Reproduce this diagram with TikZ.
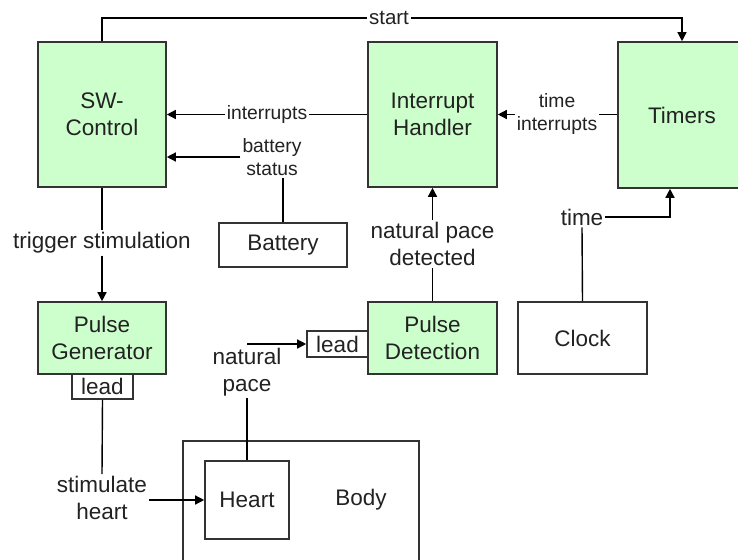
\documentclass[tikz,border=0pt]{standalone}
\usepackage{fontspec}
\setmainfont{Liberation Sans}
\usetikzlibrary{arrows.meta}

\definecolor{boxgreen}{HTML}{CCFFCC}
\definecolor{edgegray}{HTML}{333333}
\definecolor{txt}{HTML}{222222}

\tikzset{
  block/.style={draw=edgegray, line width=1.6pt, rectangle, minimum width=#1,
    inner sep=0pt, align=center, text=txt,
    font=\fontsize{22.5}{27}\selectfont},
  block/.default=128pt,
  hw/.style={block=#1, fill=boxgreen},
  hw/.default=128pt,
  biglbl/.style={fill=white, inner sep=2pt, align=center, text=txt,
    font=\fontsize{22.5}{27}\selectfont},
  smalllbl/.style={fill=white, inner sep=2pt, align=center, text=txt,
    font=\fontsize{19.3}{23}\selectfont},
  wire/.style={draw=black, line width=1.4pt},
  arr/.style={wire, -{Triangle[length=9pt,width=9pt]}},
}

\begin{document}
\begin{tikzpicture}[x=1pt, y=-1pt]
  \useasboundingbox (0,0) rectangle (738,559);
  \clip (0,0) rectangle (738,559);

  % software and hardware blocks
  \node[hw, minimum height=145pt] (sw) at (102,114.5) {SW-\\Control};
  \node[hw=129pt, minimum height=145pt] (ih) at (432.5,114.5) {Interrupt\\Handler};
  \node[hw, minimum height=146pt] (tm) at (682,115) {Timers};
  \node[hw, minimum height=72pt] (pg) at (102,338) {Pulse\\Generator};
  \node[hw=129pt, minimum height=72pt] (pd) at (432.5,338) {Pulse\\Detection};
  \node[block=129pt, minimum height=72pt] (clock) at (582.5,338) {Clock};
  \node[block, minimum height=44pt] (battery) at (283,245) {Battery};

  % leads
  \node[block=61pt, minimum height=25pt] (lead1) at (102.5,386.5) {lead};
  \node[block=61pt, minimum height=26pt] (lead2) at (337.5,344) {lead};

  % body with the heart inside
  \node[draw=edgegray, line width=1.6pt, minimum width=236pt, minimum height=121pt,
    inner sep=0pt] (body) at (301,501.5) {};
  \node[text=txt, font=\fontsize{22.5}{27}\selectfont] (bodytxt) at (361,500) {Body};
  \node[block=84pt, minimum height=78pt] (heart) at (247,500) {Heart};

  % connector labels
  \node[smalllbl, font=\fontsize{20.5}{24}\selectfont] (start) at (389,18) {start};
  \node[smalllbl] (intr) at (267,114.5) {interrupts};
  \node[smalllbl] (bstat) at (272,157) {battery\\status};
  \node[smalllbl] (tint) at (557,114.5) {time\\interrupts};
  \node[biglbl] (trig) at (102,243) {trigger stimulation};
  \node[biglbl] (stim) at (102,498) {stimulate\\heart};
  \node[biglbl] (natp) at (247,372) {natural\\pace};
  \node[biglbl] (npd) at (432.5,244) {natural pace\\detected};
  \node[biglbl] (time) at (582,217) {time};

  % connectors
  \draw[wire] (sw.north) |- (start.west);
  \draw[arr] (start.east) -| (tm.north);
  \draw[wire] (ih.west |- intr.east) -- (intr.east);
  \draw[arr] (intr.west) -- (sw.east |- intr.west);
  \draw[wire] (battery.north) -- (battery.north |- bstat.south);
  \draw[arr] (bstat.west) -- (sw.east |- bstat.west);
  \draw[wire] (tm.west |- tint.east) -- (tint.east);
  \draw[arr] (tint.west) -- (ih.east |- tint.west);
  \draw[wire] (sw.south) -- (trig.north);
  \draw[arr] (trig.south) -- (pg.north);
  \draw[wire] (lead1.south) -- (stim.north);
  \draw[arr] (stim.east |- heart.west) -- (heart.west);
  \draw[wire] (heart.north) -- (natp.south);
  \coordinate (natptop) at ([yshift=-7pt]natp.north);
  \draw[arr] (natptop |- lead2.west) -- (lead2.west);
  \draw[wire] (pd.north) -- (npd.south);
  \draw[arr] (npd.north) -- (ih.south);
  \draw[wire] (clock.north) -- (time.south);
  \coordinate (tmin) at ([xshift=-12pt]tm.south);
  \draw[arr] (time.east) -| (tmin);
\end{tikzpicture}
\end{document}
